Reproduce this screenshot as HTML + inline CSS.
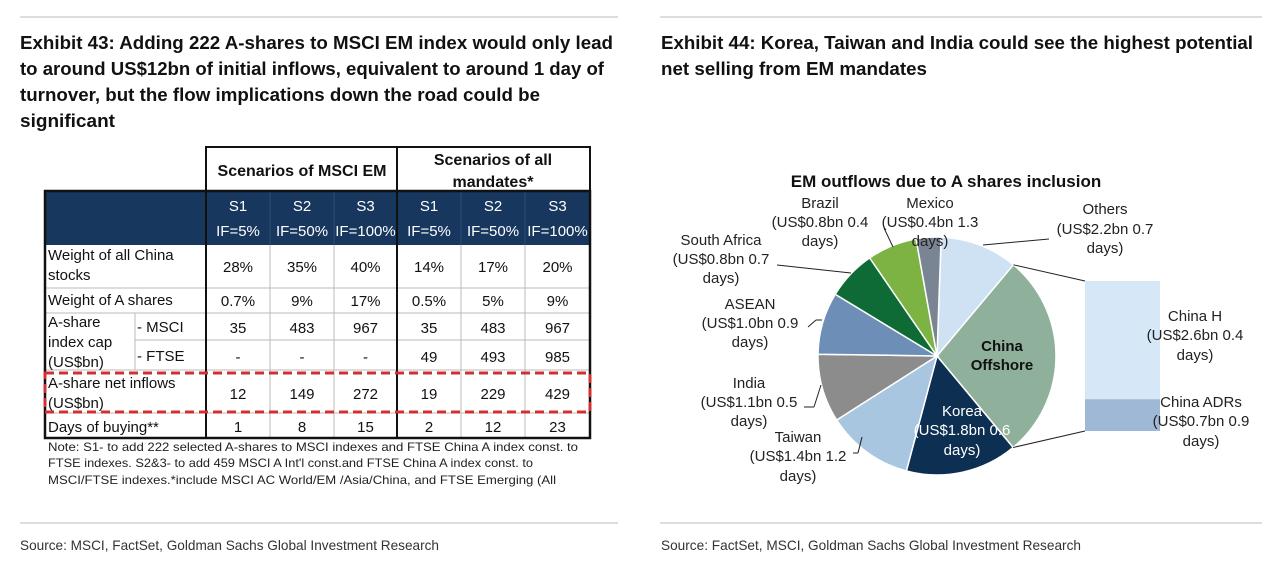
<!DOCTYPE html>
<html><head><meta charset="utf-8"><style>
html,body{margin:0;padding:0;background:#fff;}
svg{display:block;font-family:"Liberation Sans",Arial,sans-serif;}
</style></head><body>
<svg id="s" width="1280" height="567" viewBox="0 0 1280 567">
<rect width="1280" height="567" fill="#fff"/>
<g>
<line x1="20" y1="17" x2="618" y2="17" stroke="#bbb"/>
<g font-weight="bold" font-size="18" fill="#111">
<text x="20" y="49" textLength="593" lengthAdjust="spacingAndGlyphs">Exhibit 43: Adding 222 A-shares to MSCI EM index would only lead</text>
<text x="20" y="75" textLength="584" lengthAdjust="spacingAndGlyphs">to around US$12bn of initial inflows, equivalent to around 1 day of</text>
<text x="20" y="101" textLength="520" lengthAdjust="spacingAndGlyphs">turnover, but the flow implications down the road could be</text>
<text x="20" y="127" textLength="95" lengthAdjust="spacingAndGlyphs">significant</text>
</g>
<g id="tbl"></g>
<g font-size="12" fill="#222">
<text x="48" y="451" textLength="530" lengthAdjust="spacingAndGlyphs">Note: S1- to add 222 selected A-shares to MSCI indexes and FTSE China A index const. to</text>
<text x="48" y="467" textLength="485" lengthAdjust="spacingAndGlyphs">FTSE indexes. S2&amp;3- to add 459 MSCI A Int'l const.and FTSE China A index const. to</text>
<text x="48" y="484" textLength="508" lengthAdjust="spacingAndGlyphs">MSCI/FTSE indexes.*include MSCI AC World/EM /Asia/China, and FTSE Emerging (All</text>
</g>
<line x1="20" y1="523" x2="618" y2="523" stroke="#bbb"/>
<text x="20" y="550" font-size="14" fill="#333" textLength="419" lengthAdjust="spacingAndGlyphs">Source: MSCI, FactSet, Goldman Sachs Global Investment Research</text>
</g>
<g>
<line x1="660" y1="17" x2="1262" y2="17" stroke="#bbb"/>
<g font-weight="bold" font-size="18" fill="#111">
<text x="661" y="49" textLength="592" lengthAdjust="spacingAndGlyphs">Exhibit 44: Korea, Taiwan and India could see the highest potential</text>
<text x="661" y="75" textLength="266" lengthAdjust="spacingAndGlyphs">net selling from EM mandates</text>
</g>
<text x="946" y="187" text-anchor="middle" font-weight="bold" font-size="17" fill="#111">EM outflows due to A shares inclusion</text>
<g id="pie"></g>
<line x1="660" y1="523" x2="1262" y2="523" stroke="#bbb"/>
<text x="661" y="550" font-size="14" fill="#333" textLength="420" lengthAdjust="spacingAndGlyphs">Source: FactSet, MSCI, Goldman Sachs Global Investment Research</text>
</g>
</svg>
<script>
// ---- pie data ----
const pieCategories = ["Others","China Offshore","Korea","Taiwan","India","ASEAN","South Africa","Brazil","Mexico"];
const pieValues = [1.25, 3.3, 1.8, 1.4, 1.1, 1.0, 0.8, 0.8, 0.4];
const pieColors = ["#cfe2f3","#8fb09a","#0d2f52","#a9c6e0","#8c8c8c","#6d8fb7","#0e6b35","#7cb342","#7a8594"];
const barCategories = ["China H","China ADRs"];
const barValues = [2.6, 0.7];
const barColors = ["#d6e7f7","#9fb8d6"];

const NS="http://www.w3.org/2000/svg";
function mk(tag,attrs,parent){const e=document.createElementNS(NS,tag);for(const k in attrs)e.setAttribute(k,attrs[k]);parent.appendChild(e);return e;}
const pie=document.getElementById('pie');
const cx=937,cy=356,r=119,start=2;
const total=pieValues.reduce((a,b)=>a+b,0);
function pt(deg){const a=deg*Math.PI/180;return [cx+r*Math.sin(a),cy-r*Math.cos(a)];}
let ang=start;const bounds=[];
pieValues.forEach((v,i)=>{
  const a0=ang,a1=ang+v/total*360;bounds.push([a0,a1]);ang=a1;
  const p0=pt(a0),p1=pt(a1);const large=(a1-a0)>180?1:0;
  const p=mk('path',{d:`M${cx},${cy}L${p0[0]},${p0[1]}A${r},${r} 0 ${large} 1 ${p1[0]},${p1[1]}Z`,fill:pieColors[i],stroke:'#fff','stroke-width':1.5},pie);
  
  
});
const bx=1085,bw=75,btop=281,bScale=150/barValues.reduce((a,b)=>a+b,0);
let by=btop;
barValues.forEach((v,i)=>{
  const h=v*bScale;
  const b=mk('rect',{x:bx,y:by,width:bw,height:h,fill:barColors[i]},pie);
  
  
  by+=h;
});
const pa=pt(bounds[1][0]),pb=pt(bounds[1][1]);
const c1=mk('line',{x1:pa[0],y1:pa[1],x2:bx,y2:btop,stroke:'#222','stroke-width':1},pie);


const c2=mk('line',{x1:pb[0],y1:pb[1],x2:bx,y2:by,stroke:'#222','stroke-width':1},pie);


const leaders=[[983,245,1049,239],[884,228,893,247],[777,265,851,273],[808,327,816,320],[816,320,822,320],[804,407,814,407],[814,407,821,385],[853,453,858,453],[858,453,862,437]];
leaders.forEach(l=>{const e=mk('line',{x1:l[0],y1:l[1],x2:l[2],y2:l[3],stroke:'#222','stroke-width':1},pie);

});
const labels=[
 ["others",1105,[214,234,253],["Others","(US$2.2bn 0.7","days)"],"#222",""],
 ["mexico",930,[208,227,246],["Mexico","(US$0.4bn 1.3","days)"],"#222",""],
 ["brazil",820,[208,227,246],["Brazil","(US$0.8bn 0.4","days)"],"#222",""],
 ["south-africa",721,[245,264,283],["South Africa","(US$0.8bn 0.7","days)"],"#222",""],
 ["asean",750,[309,328,347],["ASEAN","(US$1.0bn 0.9","days)"],"#222",""],
 ["india",749,[388,407,426],["India","(US$1.1bn 0.5","days)"],"#222",""],
 ["taiwan",798,[442,461,481],["Taiwan","(US$1.4bn 1.2","days)"],"#222",""],
 ["korea",962,[416,435,455],["Korea","(US$1.8bn 0.6","days)"],"#fff",""],
 ["china-offshore",1002,[351,370],["China","Offshore"],"#111","bold"],
 ["china-h",1195,[321,340,360],["China H","(US$2.6bn 0.4","days)"],"#222",""],
 ["china-adrs",1201,[407,426,446],["China ADRs","(US$0.7bn 0.9","days)"],"#222",""]
];
labels.forEach(L=>{
  const t=mk('text',{x:L[1],'text-anchor':'middle','font-size':15,fill:L[4],'font-weight':L[5]||'normal'},pie);
  
  
  L[3].forEach((s,i)=>{const ts=mk('tspan',{x:L[1],y:L[2][i]},t);ts.textContent=s;});
});

// ---- table ----
const tbl=document.getElementById('tbl');
const colX=[206,270,334,397,461,525,590];
const rowVals=[
 ["28%","35%","40%","14%","17%","20%"],
 ["0.7%","9%","17%","0.5%","5%","9%"],
 ["35","483","967","35","483","967"],
 ["-","-","-","49","493","985"],
 ["12","149","272","19","229","429"],
 ["1","8","15","2","12","23"]];
const rowY=[245,288,313,340,370,413,438];
const valY=[272,306,333,362,399,432];
function T(x,y,s,o,name){const t=mk('text',Object.assign({x:x,y:y,'font-size':15,fill:'#111'},o||{}),tbl);t.textContent=s;
 
 return t;}
mk('rect',{x:45,y:191,width:545,height:54,fill:'#17375e'},tbl);
for(let i=1;i<rowY.length-1;i++){ if(i==3){mk('line',{x1:135,y1:rowY[i],x2:590,y2:rowY[i],stroke:'#bbb'},tbl);} else mk('line',{x1:45,y1:rowY[i],x2:590,y2:rowY[i],stroke:'#bbb'},tbl);}
[270,334,461,525].forEach(x=>mk('line',{x1:x,y1:245,x2:x,y2:438,stroke:'#bbb'},tbl));
[270,334,461,525].forEach(x=>mk('line',{x1:x,y1:191,x2:x,y2:245,stroke:'#2d4d73'},tbl));
mk('line',{x1:135,y1:313,x2:135,y2:370,stroke:'#bbb'},tbl);
mk('rect',{x:206,y:147,width:384,height:44,fill:'none',stroke:'#111','stroke-width':2},tbl);
mk('line',{x1:397,y1:147,x2:397,y2:438,stroke:'#111','stroke-width':2},tbl);
mk('line',{x1:206,y1:191,x2:206,y2:438,stroke:'#111','stroke-width':2},tbl);
mk('rect',{x:45,y:191,width:545,height:247,fill:'none',stroke:'#111','stroke-width':2.5},tbl);
T(302,176,"Scenarios of MSCI EM",{'font-weight':'bold','text-anchor':'middle','font-size':16},'header-msci-em');
T(493,165,"Scenarios of all",{'font-weight':'bold','text-anchor':'middle','font-size':16},'header-all-mandates');
T(493,187,"mandates*",{'font-weight':'bold','text-anchor':'middle','font-size':16},'header-all-mandates');
const sc=["S1","S2","S3","S1","S2","S3"],ifs=["IF=5%","IF=50%","IF=100%","IF=5%","IF=50%","IF=100%"];
for(let c=0;c<6;c++){const mx=(colX[c]+colX[c+1])/2;
 T(mx,211,sc[c],{'text-anchor':'middle',fill:'#fff'},'scenario-header');
 T(mx,236,ifs[c],{'text-anchor':'middle',fill:'#fff'},'scenario-header');}
rowVals.forEach((row,r)=>row.forEach((v,c)=>T((colX[c]+colX[c+1])/2,valY[r],v,{'text-anchor':'middle'},'table-cell')));
T(48,260,"Weight of all China",{},'row-label');T(48,280,"stocks",{},'row-label');
T(48,305,"Weight of A shares",{},'row-label');
T(48,327,"A-share",{},'row-label');T(48,347,"index cap",{},'row-label');T(48,367,"(US$bn)",{},'row-label');
T(137,332,"- MSCI",{},'row-label');T(137,361,"- FTSE",{},'row-label');
T(48,388,"A-share net inflows",{},'row-label');T(48,408,"(US$bn)",{},'row-label');
T(48,432,"Days of buying**",{},'row-label');
const dash=mk('rect',{x:45,y:373,width:545,height:39,fill:'none',stroke:'#d03030','stroke-width':3,'stroke-dasharray':'9 5'},tbl);


</script>
</body></html>
